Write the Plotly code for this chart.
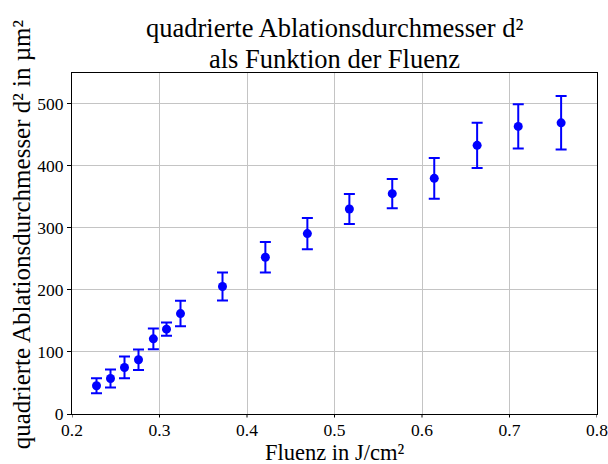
import plotly.graph_objects as go

# Fluence (J/cm^2), squared ablation diameter (um^2) and its uncertainty
fluenz = [0.228, 0.244, 0.260, 0.276, 0.293, 0.308, 0.324, 0.372,
          0.421, 0.469, 0.517, 0.566, 0.614, 0.663, 0.710, 0.759]
d2 = [45.5, 57.2, 74.9, 87.3, 121.0, 136.6, 161.7, 205.2,
      252.4, 290.4, 330.0, 354.7, 379.4, 432.5, 463.0, 468.8]
d2_err = [12.0, 14.5, 17.5, 16.5, 16.7, 10.7, 20.6, 22.5,
          24.6, 25.0, 24.0, 23.5, 32.7, 36.5, 35.7, 43.0]

x_ticks = [0.2, 0.3, 0.4, 0.5, 0.6, 0.7, 0.8]
y_ticks = [0, 100, 200, 300, 400, 500]

title_lines = ["quadrierte Ablationsdurchmesser d²", "als Funktion der Fluenz"]
x_label = "Fluenz in J/cm²"
y_label = "quadrierte Ablationsdurchmesser d² in µm²"

FONT = "Liberation Serif"
PLOT_H = 464 - 73 - 50  # plot area height in px

fig = go.Figure(
    go.Scatter(
        x=fluenz,
        y=d2,
        mode="markers",
        marker=dict(color="#0000ff", size=9),
        error_y=dict(type="data", array=d2_err, visible=True,
                     color="#0000ff", thickness=2, width=5.5),
        showlegend=False,
    )
)

axis_common = dict(
    showgrid=True, gridcolor="#c4c4c4", gridwidth=1,
    showline=True, linecolor="black", linewidth=1, mirror=True,
    tickcolor="black", tickwidth=1,
    zeroline=False, automargin=False, ticklabeloverflow="allow",
    tickfont=dict(family=FONT, size=17.5, color="black"),
)

fig.update_layout(
    width=608, height=464,
    margin=dict(l=72, r=11, t=73, b=50),
    paper_bgcolor="white", plot_bgcolor="white",
    font=dict(family=FONT, color="black"),
    xaxis=dict(range=[0.2, 0.8], tickvals=x_ticks,
               ticktext=[f"{v:.1f}" for v in x_ticks],
               ticks="", **axis_common),
    yaxis=dict(range=[0, 549], tickvals=y_ticks, ticks="outside",
               ticklen=4, **axis_common),
)

# Short outward tick marks on the x axis, placed at the tick values
for v in x_ticks:
    fig.add_shape(type="line", xref="x", yref="paper",
                  x0=v, x1=v, y0=0, y1=-3.5 / PLOT_H,
                  line=dict(color="black", width=1))

# Two-line title above the plot area
for text, ypos in zip(title_lines, [1.1334, 1.0425]):
    fig.add_annotation(text=text, xref="paper", yref="paper",
                       x=0.5, y=ypos, xanchor="center", yanchor="middle",
                       showarrow=False,
                       font=dict(family=FONT, size=26.5, color="black"))

# Axis titles
fig.add_annotation(text=x_label, xref="paper", yref="paper",
                   x=0.5, y=-0.112, xanchor="center", yanchor="middle",
                   showarrow=False, borderpad=0,
                   font=dict(family=FONT, size=22.5, color="black"))
fig.add_annotation(text=y_label, xref="paper", yref="paper",
                   x=-0.096, y=0.526, xanchor="center", yanchor="middle",
                   textangle=-90, showarrow=False,
                   font=dict(family=FONT, size=25, color="black"))

fig.write_html("out.html")
